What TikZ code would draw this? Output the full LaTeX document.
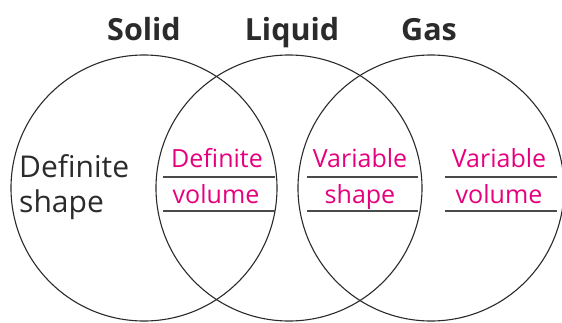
\documentclass[tikz,border=0pt]{standalone}
\usepackage{fontspec}
\setmainfont{Open Sans}
\definecolor{mag}{HTML}{E6007E}
\definecolor{ink}{HTML}{2B2B2B}
\definecolor{rulegray}{HTML}{4A4A4A}
\begin{document}
\begin{tikzpicture}[x=1pt,y=-1pt,
  ring/.style={circle,draw=ink,line width=1.1pt,minimum size=266pt,inner sep=0pt},
  title/.style={anchor=base,font=\fontsize{30.5}{33}\selectfont\bfseries,text=ink,inner sep=0pt},
  fact/.style={anchor=base,font=\fontsize{25}{28}\selectfont,text=mag,inner sep=0pt},
  plain/.style={anchor=base west,font=\fontsize{30}{33}\selectfont,text=ink,inner sep=0pt},
  rule/.style={draw=rulegray,line width=1.1pt}]
\useasboundingbox (0,0) rectangle (562,322);
\node[ring] (solidc) at (144,188) {};
\node[ring] (liquidc) at (289,188) {};
\node[ring] (gasc) at (431,188) {};
\node[title] (solid) at (144,40) {Solid};
\node[title] (liquid) at (292,40) {Liquid};
\node[title] (gas) at (429,40) {Gas};
\node[plain] (ds1) at (19,177) {Definite};
\node[plain] (ds2) at (19,212) {shape};
\node[fact] (dv1) at (217,167) {Definite};
\node[fact] (dv2) at (216,203) {volume};
\node[fact] (vs1) at (360,167) {Variable};
\node[fact] (vs2) at (360,203) {shape};
\node[fact] (vv1) at (499,167) {Variable};
\node[fact] (vv2) at (499,203) {volume};
\coordinate (a1) at (163,177); \coordinate (b1) at (275,177);
\coordinate (a2) at (163,211); \coordinate (b2) at (275,211);
\coordinate (c1) at (307,177); \coordinate (d1) at (418,177);
\coordinate (c2) at (307,211); \coordinate (d2) at (418,211);
\coordinate (e1) at (445,177); \coordinate (f1) at (557,177);
\coordinate (e2) at (445,211); \coordinate (f2) at (557,211);
\draw[rule] (a1) -- (b1); \draw[rule] (a2) -- (b2);
\draw[rule] (c1) -- (d1); \draw[rule] (c2) -- (d2);
\draw[rule] (e1) -- (f1); \draw[rule] (e2) -- (f2);
\end{tikzpicture}
\end{document}
